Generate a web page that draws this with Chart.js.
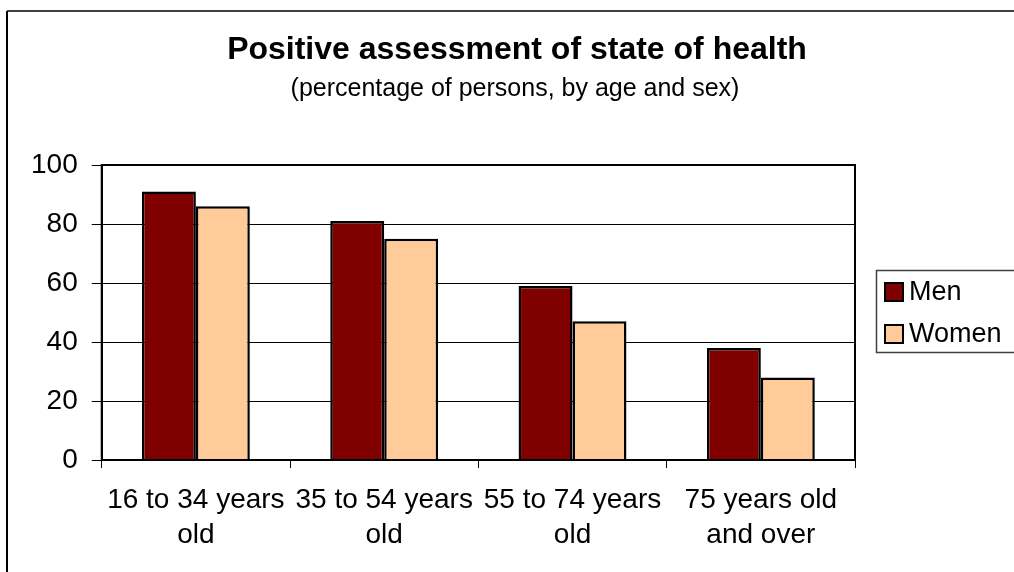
<!DOCTYPE html>
<html>
<head>
<meta charset="utf-8">
<script src="https://cdn.jsdelivr.net/npm/chart.js@4/dist/chart.umd.min.js"></script>
<style>
  html, body { margin: 0; padding: 0; background: #fff; }
  #wrap { width: 1014px; height: 572px; }
</style>
</head>
<body>
<div id="wrap"><canvas id="chart" width="1014" height="572"></canvas></div>
<script>
// data
const categories = [
  ["16 to 34 years", "old"],
  ["35 to 54 years", "old"],
  ["55 to 74 years", "old"],
  ["75 years old", "and over"]
];
const men = [91, 81, 59, 38];
const women = [86, 75, 47, 28];
const yTicks = [0, 20, 40, 60, 80, 100];

const titleText = "Positive assessment of state of health";
const subtitleText = "(percentage of persons, by age and sex)";

const FONT = "'Liberation Sans', Arial, sans-serif";

// outer frame, titles and plot border
const framePlugin = {
  id: "frame",
  beforeDraw(chart) {
    const ctx = chart.ctx;
    ctx.save();
    ctx.fillStyle = "#fff";
    ctx.fillRect(0, 0, chart.width, chart.height);
    ctx.lineWidth = 2;
    ctx.strokeStyle = "#404040";
    ctx.beginPath();
    ctx.moveTo(7, 11);
    ctx.lineTo(chart.width, 11);
    ctx.stroke();
    ctx.strokeStyle = "#000";
    ctx.beginPath();
    ctx.moveTo(7, 11);
    ctx.lineTo(7, chart.height);
    ctx.stroke();

    // title + subtitle are centred on the whole frame, not the plot
    ctx.fillStyle = "#000";
    ctx.textAlign = "center";
    ctx.textBaseline = "middle";
    ctx.font = "bold 32px " + FONT;
    ctx.fillText(titleText, 517, 50);
    ctx.font = "25px " + FONT;
    ctx.fillText(subtitleText, 515, 89);
    ctx.restore();
  },
  afterDraw(chart) {
    const a = chart.chartArea;
    const ctx = chart.ctx;
    ctx.save();
    ctx.lineWidth = 2;
    ctx.strokeStyle = "#000";
    ctx.strokeRect(a.left, a.top, a.right - a.left, a.bottom - a.top);
    ctx.restore();
  }
};

// boxed legend on the right, like the spreadsheet one
const boxLegend = {
  id: "boxLegend",
  afterDraw(chart) {
    const ctx = chart.ctx;
    ctx.save();
    ctx.lineWidth = 1.5;
    ctx.strokeStyle = "#404040";
    ctx.strokeRect(876.5, 270.5, 160, 82);
    ctx.font = "27px " + FONT;
    ctx.textBaseline = "middle";
    chart.data.datasets.forEach((ds, i) => {
      const cy = 292 + i * 42;
      ctx.fillStyle = ds.backgroundColor;
      ctx.fillRect(885, cy - 9, 18, 18);
      ctx.lineWidth = 2;
      ctx.strokeStyle = "#000";
      ctx.strokeRect(885, cy - 9, 18, 18);
      ctx.fillStyle = "#000";
      ctx.fillText(ds.label, 909, cy + 1);
    });
    ctx.restore();
  }
};

new Chart(document.getElementById("chart"), {
  type: "bar",
  data: {
    labels: categories,
    datasets: [
      {
        label: "Men",
        data: men,
        backgroundColor: "#800000",
        borderColor: "#000",
        borderWidth: 2.5,
        categoryPercentage: 0.573,
        barPercentage: 1.0
      },
      {
        label: "Women",
        data: women,
        backgroundColor: "#FFCC99",
        borderColor: "#000",
        borderWidth: 2.5,
        categoryPercentage: 0.573,
        barPercentage: 1.0
      }
    ]
  },
  options: {
    responsive: false,
    animation: false,
    layout: { padding: { left: 17, right: 159, top: 165, bottom: 4 } },
    plugins: {
      legend: { display: false },
      tooltip: { enabled: false }
    },
    scales: {
      x: {
        grid: {
          display: true,
          drawOnChartArea: false,
          drawTicks: true,
          tickLength: 8,
          color: "#000",
          lineWidth: 1
        },
        border: { color: "#000", width: 2 },
        ticks: {
          color: "#000",
          font: { family: FONT, size: 28, lineHeight: 1.25 },
          padding: 15,
          maxRotation: 0,
          autoSkip: false
        }
      },
      y: {
        min: 0,
        max: 100,
        afterBuildTicks(scale) {
          scale.ticks = yTicks.map(v => ({ value: v }));
        },
        grid: {
          color: "#000",
          lineWidth: 1,
          tickLength: 10
        },
        border: { color: "#000", width: 2 },
        ticks: {
          color: "#000",
          font: { family: FONT, size: 28 },
          padding: 14
        }
      }
    }
  },
  plugins: [framePlugin, boxLegend]
});
</script>
</body>
</html>
